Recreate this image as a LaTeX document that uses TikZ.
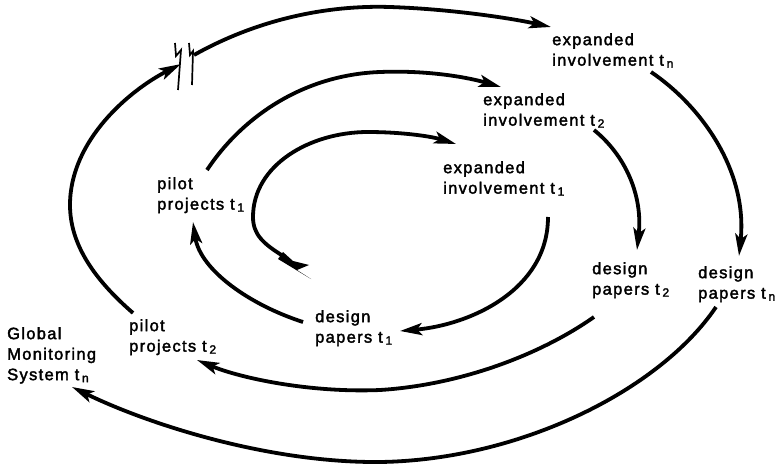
\documentclass[tikz,border=0pt]{standalone}
\usepackage{fontspec}
\setmainfont{Liberation Sans}[LetterSpace=8, FakeBold=2.2]
\usetikzlibrary{arrows.meta}
\newcommand{\sbs}[1]{\raisebox{-2pt}{\fontsize{12}{12}\selectfont #1}}
\begin{document}
\begin{tikzpicture}[x=1pt,y=-1pt,
  lbl/.style={anchor=north west, inner sep=0pt, align=left, font=\fontsize{16.5}{20.5}\selectfont},
  arc/.style={line width=3.8pt, -{Stealth[length=22pt,width=12pt,inset=5pt]}},
  brk/.style={line width=1.7pt, line join=miter}]
\useasboundingbox (0,0) rectangle (776,465);

% labels
\node[lbl] (eitn) at (552,33) {expanded\\involvement t\,\sbs{n}};
\node[lbl] (eit2) at (483,93) {expanded\\involvement t\,\sbs{2}};
\node[lbl] (eit1) at (443,161) {expanded\\involvement t\,\sbs{1}};
\node[lbl] (ppt1) at (157,177) {pilot\\projects t\,\sbs{1}};
\node[lbl] (dpt1) at (315,310) {design\\papers t\,\sbs{1}};
\node[lbl] (dpt2) at (592,262) {design\\papers t\,\sbs{2}};
\node[lbl] (dptn) at (698,266) {design\\papers t\,\sbs{n}};
\node[lbl] (ppt2) at (129,319) {pilot\\projects t\,\sbs{2}};
\node[lbl] (gms) at (7,327) {Global\\Monitoring\\System t\,\sbs{n}};

% endpoints
\coordinate (a0) at (283,256);  \coordinate (a1) at (456,144);
\coordinate (b0) at (548,217);  \coordinate (b1) at (400,331);
\coordinate (c0) at (303,322);  \coordinate (c1) at (193,222);
\coordinate (d0) at (207,170);  \coordinate (d1) at (501,87);
\coordinate (e0) at (594,130);  \coordinate (e1) at (637,250);
\coordinate (f0) at (594,317);  \coordinate (f1) at (197,360);
\coordinate (g0) at (133,313);  \coordinate (g1) at (181,64);
\coordinate (g2) at (194,55);   \coordinate (g3) at (551,27);
\coordinate (h0) at (651,72);   \coordinate (h1) at (739,256);
\coordinate (i0) at (716,307);  \coordinate (i1) at (72,387);

% spiral arcs
\draw[arc] (a0) .. controls (264,244) and (253,235) .. (253,217)
  .. controls (253,165) and (310,132) .. (368,132)
  .. controls (400,132) and (430,136) .. (a1);
\fill (283,252) -- (293,261) -- (309,265) -- (297,270) -- (311,279) -- (278,259) -- cycle;
\draw[arc] (b0) .. controls (548,290) and (470,325) .. (b1);
\draw[arc] (c0) .. controls (250,305) and (200,270) .. (c1);
\draw[arc] (d0) .. controls (240,120) and (300,75) .. (380,72)
  .. controls (430,70) and (470,78) .. (d1);
\draw[arc] (e0) .. controls (625,155) and (643,195) .. (e1);
\draw[arc] (f0) .. controls (540,355) and (460,385) .. (380,390)
  .. controls (310,393) and (240,378) .. (f1);
\draw[arc] (g0) .. controls (95,280) and (70,245) .. (70,205)
  .. controls (70,140) and (130,90) .. (g1);
\draw[arc] (g2) .. controls (260,18) and (330,5) .. (390,7)
  .. controls (450,9) and (510,18) .. (g3);
\draw[arc] (h0) .. controls (700,105) and (748,170) .. (h1);
\draw[arc] (i0) .. controls (660,390) and (520,460) .. (380,462)
  .. controls (270,463) and (150,425) .. (i1);

% break marks
\draw[brk] (175,43) -- (176,56) -- (181,50) -- (178,90);
\draw[brk] (189,43) -- (190,55) -- (193,51) -- (192,85);
\end{tikzpicture}
\end{document}
